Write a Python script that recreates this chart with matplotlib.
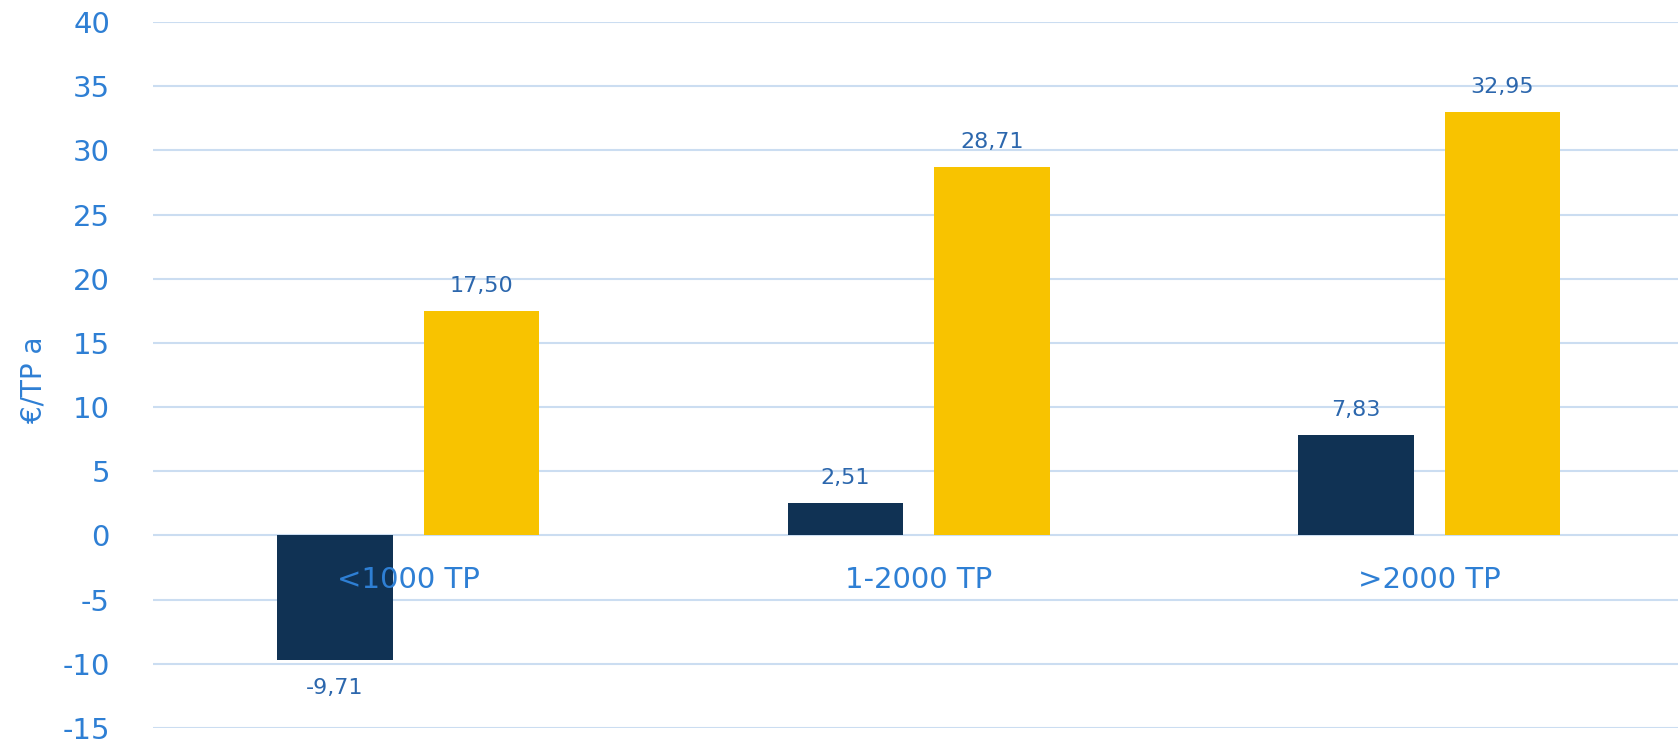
import matplotlib.pyplot as plt
import numpy as np

categories = ['<1000 TP', '1-2000 TP', '>2000 TP']
dark_values = [-9.71, 2.51, 7.83]
yellow_values = [17.50, 28.71, 32.95]
y_ticks = [-15, -10, -5, 0, 5, 10, 15, 20, 25, 30, 35, 40]

navy = '#103254'
gold = '#F8C300'
tick_blue = '#2E7FD4'
label_blue = '#2C67AD'
grid_blue = '#CBDDF1'

fig = plt.figure(figsize=(16.78, 7.44), dpi=100)
ax = fig.add_axes([0.0912, 0.0215, 0.9127, 0.949])

x = np.arange(len(categories))
w = 0.226
off = 0.1435
ax.bar(x - off, dark_values, w, color=navy, zorder=2)
ax.bar(x + off, yellow_values, w, color=gold, zorder=2)

def fmt(v):
    return f'{v:.2f}'.replace('.', ',')

for xs, vals in ((x - off, dark_values), (x + off, yellow_values)):
    for xi, v in zip(xs, vals):
        dy = 18 if v >= 0 else -20
        ax.annotate(fmt(v), (xi, v), xytext=(0, dy), textcoords='offset points',
                    ha='center', va='center', fontsize=16, color=label_blue, zorder=4)

# category names sit just under the zero line, over the bars
for xi, name in zip(x, categories):
    ax.annotate(name, (xi, 0), xytext=(0, -32), textcoords='offset points',
                ha='center', va='center', fontsize=21, color=tick_blue, zorder=5)

ax.set_xlim(-0.5, len(categories) - 0.5)
ax.set_ylim(-15, 40)
ax.set_yticks(y_ticks)
ax.set_yticklabels([str(t) for t in y_ticks])
ax.set_xticks([])
ax.tick_params(axis='y', length=0, pad=31, labelsize=21, labelcolor=tick_blue)
ax.grid(axis='y', color=grid_blue, linewidth=1.5, zorder=0)
ax.set_axisbelow(True)
for s in ax.spines.values():
    s.set_visible(False)

ax.set_ylabel('€/TP a', fontsize=20, color=tick_blue)
ax.yaxis.set_label_coords(-0.069, 0.493)

fig.savefig('out.png', dpi=100)
